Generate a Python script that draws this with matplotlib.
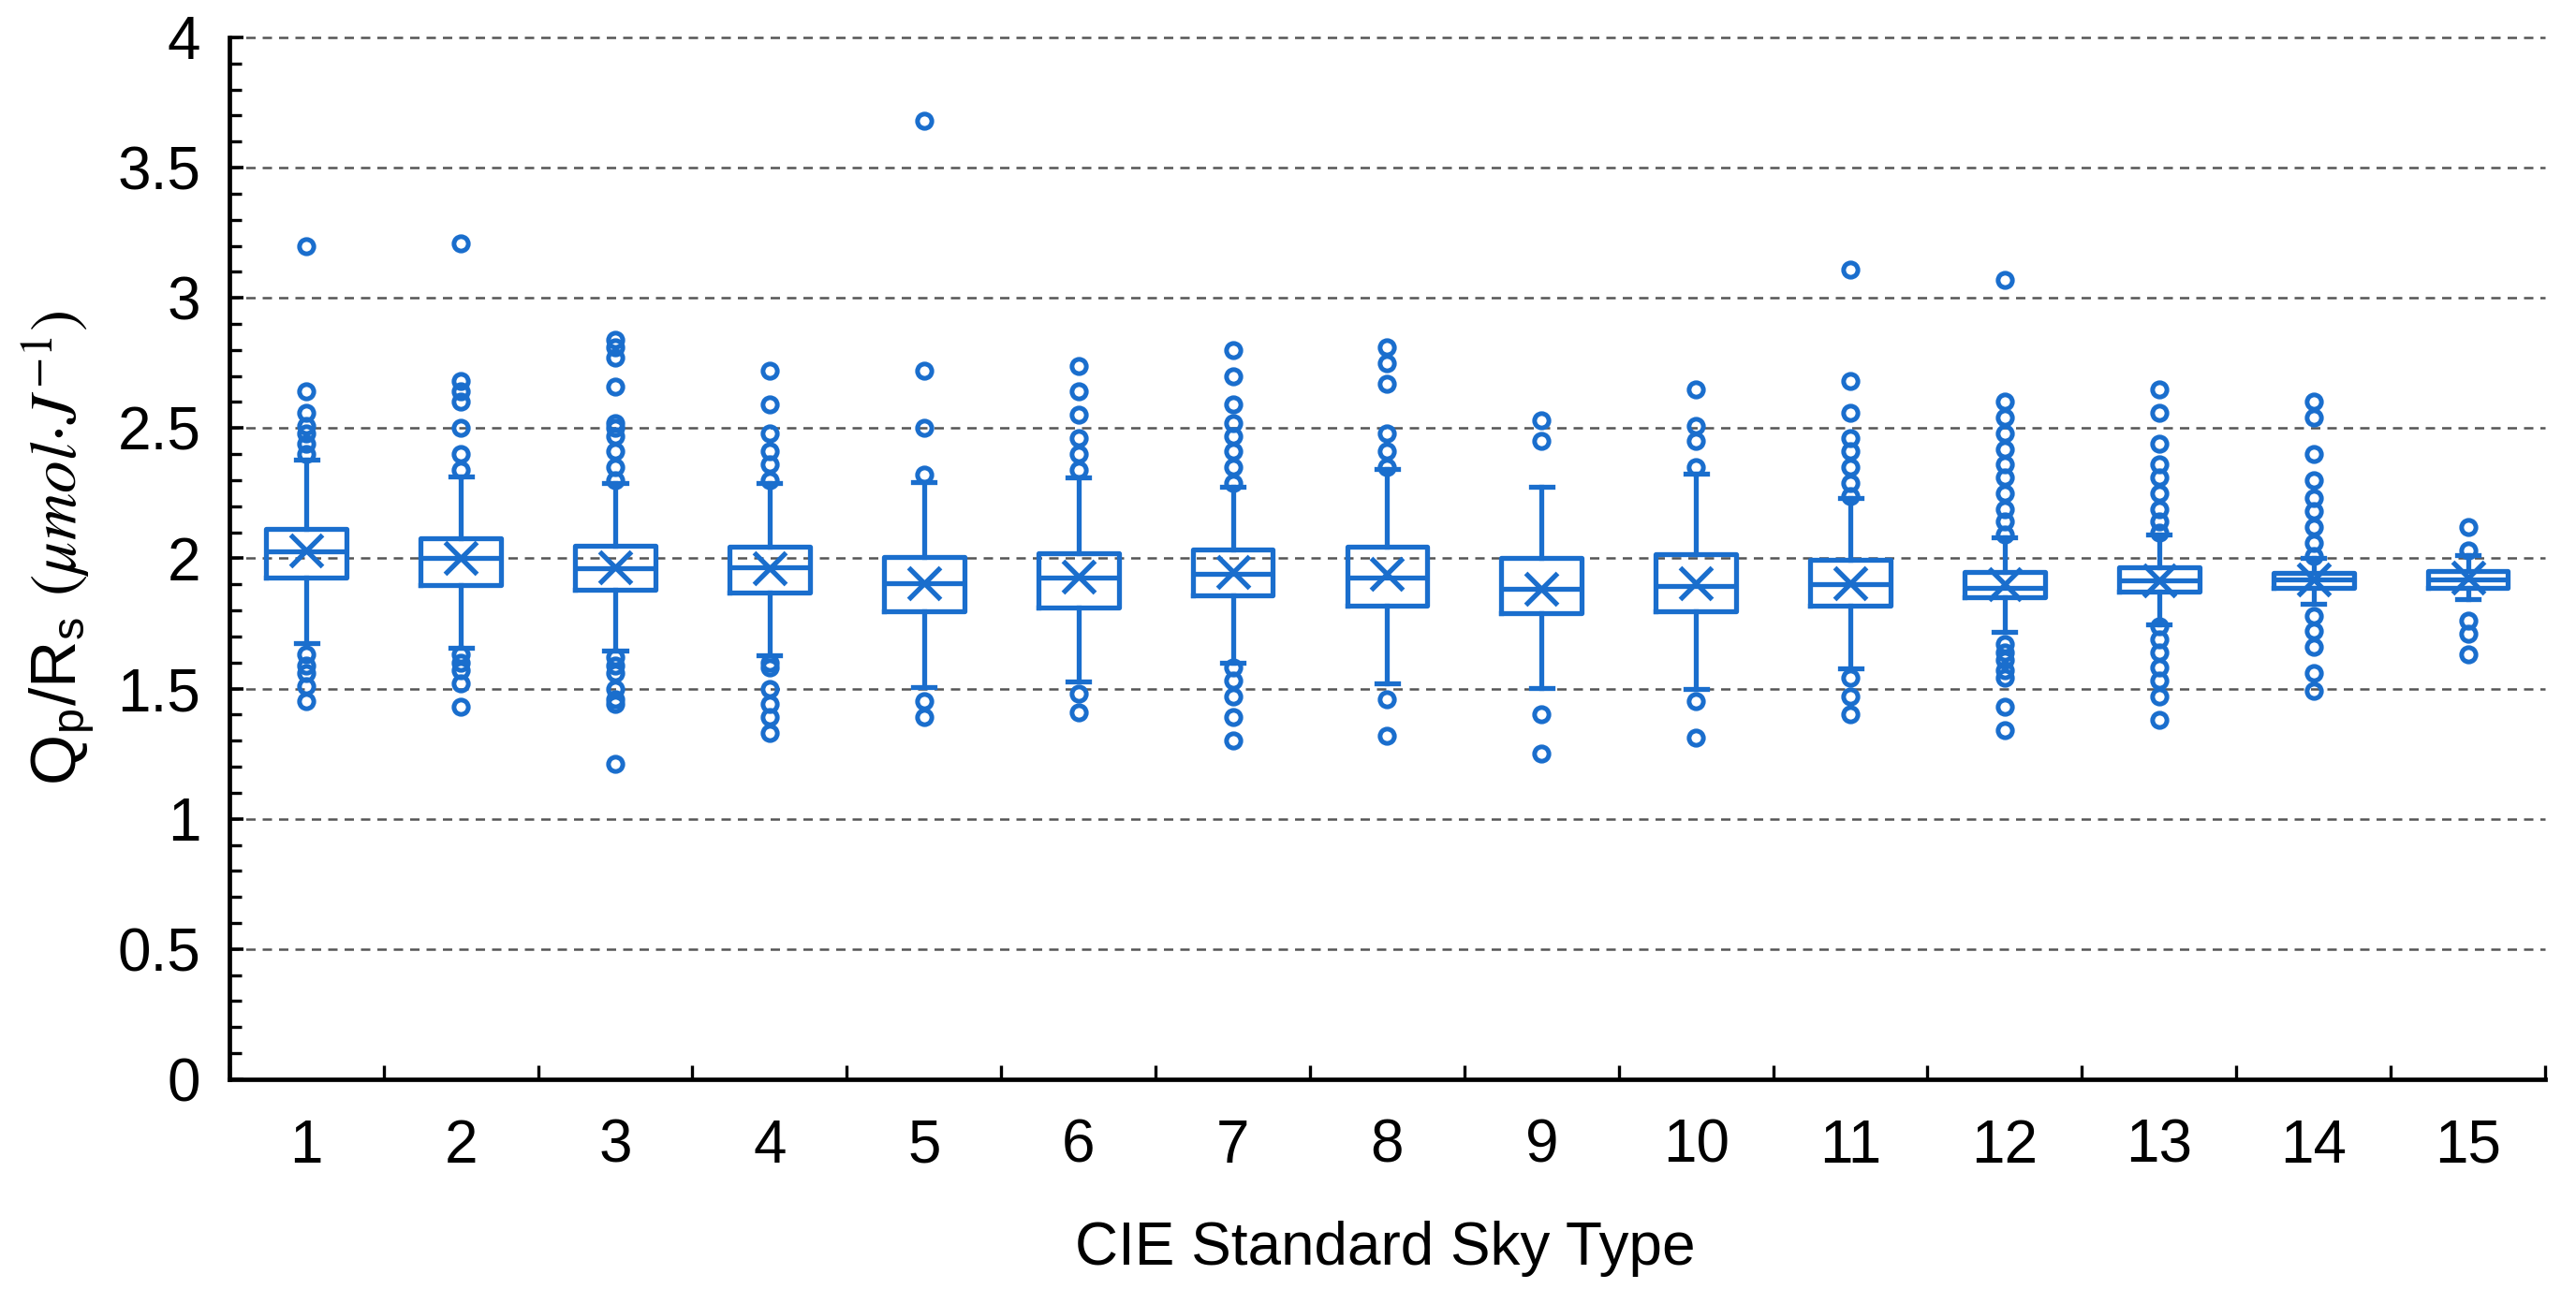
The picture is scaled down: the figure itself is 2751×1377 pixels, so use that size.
import matplotlib
matplotlib.use('Agg')
import matplotlib.pyplot as plt
from matplotlib.ticker import MultipleLocator, FormatStrFormatter

plt.rcParams['font.family'] = ['Liberation Sans', 'DejaVu Sans']
plt.rcParams['mathtext.fontset'] = 'stix'

# 数据: 每种天空类型的箱线图统计量
sky_types = list(range(1, 16))
q1 = [1.926, 1.897, 1.879, 1.868, 1.798, 1.811, 1.857, 1.820, 1.789, 1.798, 1.817, 1.849, 1.871, 1.886, 1.886]
med = [2.026, 2.000, 1.961, 1.967, 1.903, 1.925, 1.939, 1.925, 1.884, 1.893, 1.902, 1.885, 1.915, 1.918, 1.920]
q3 = [2.114, 2.077, 2.050, 2.044, 2.004, 2.018, 2.035, 2.044, 2.000, 2.017, 1.993, 1.948, 1.964, 1.943, 1.952]
means = [2.030, 2.000, 1.967, 1.961, 1.903, 1.930, 1.949, 1.939, 1.884, 1.903, 1.906, 1.900, 1.915, 1.920, 1.925]
whis_lo = [1.673, 1.658, 1.645, 1.627, 1.507, 1.529, 1.600, 1.520, 1.502, 1.498, 1.576, 1.717, 1.745, 1.825, 1.843]
whis_hi = [2.380, 2.316, 2.289, 2.289, 2.294, 2.311, 2.276, 2.344, 2.276, 2.325, 2.232, 2.081, 2.090, 2.000, 2.012]
fliers = [
    [3.20, 2.64, 2.56, 2.51, 2.48, 2.44, 2.40, 1.63, 1.59, 1.56, 1.51, 1.45],
    [3.21, 2.68, 2.64, 2.60, 2.50, 2.40, 2.34, 1.63, 1.60, 1.57, 1.52, 1.43],
    [2.84, 2.81, 2.77, 2.66, 2.52, 2.50, 2.47, 2.41, 2.35, 2.30, 1.62, 1.59, 1.56, 1.50, 1.46, 1.44, 1.21],
    [2.72, 2.59, 2.48, 2.41, 2.36, 2.30, 1.60, 1.58, 1.50, 1.44, 1.39, 1.33],
    [3.68, 2.72, 2.50, 2.32, 1.45, 1.39],
    [2.74, 2.64, 2.55, 2.46, 2.40, 2.34, 1.48, 1.41],
    [2.80, 2.70, 2.59, 2.52, 2.47, 2.41, 2.35, 2.29, 1.58, 1.53, 1.47, 1.39, 1.30],
    [2.81, 2.75, 2.67, 2.48, 2.41, 2.35, 1.46, 1.32],
    [2.53, 2.45, 1.40, 1.25],
    [2.65, 2.51, 2.45, 2.35, 1.45, 1.31],
    [3.11, 2.68, 2.56, 2.46, 2.41, 2.35, 2.29, 2.24, 1.54, 1.47, 1.40],
    [3.07, 2.60, 2.54, 2.48, 2.42, 2.36, 2.31, 2.25, 2.19, 2.14, 2.09, 1.67, 1.64, 1.61, 1.57, 1.54, 1.43, 1.34],
    [2.65, 2.56, 2.44, 2.36, 2.31, 2.25, 2.19, 2.14, 2.10, 1.74, 1.69, 1.64, 1.58, 1.53, 1.47, 1.38],
    [2.60, 2.54, 2.40, 2.30, 2.23, 2.18, 2.12, 2.06, 2.01, 1.78, 1.72, 1.66, 1.56, 1.49],
    [2.12, 2.03, 1.76, 1.71, 1.63],
]

BLUE = '#1a6ecd'

stats = []
for i in range(len(sky_types)):
    stats.append({
        'q1': q1[i], 'med': med[i], 'q3': q3[i], 'mean': means[i],
        'whislo': whis_lo[i], 'whishi': whis_hi[i], 'fliers': fliers[i],
        'label': str(sky_types[i]),
    })

fig = plt.figure(figsize=(27.51, 13.77), dpi=100)
ax = fig.add_axes([0.089, 0.1627, 0.899, 0.8083])

lw = 3.8
ax.bxp(stats, positions=sky_types, widths=0.52, capwidths=0.14,
       showmeans=True, meanline=False, patch_artist=False,
       boxprops=dict(color=BLUE, linewidth=lw),
       medianprops=dict(color=BLUE, linewidth=lw),
       whiskerprops=dict(color=BLUE, linewidth=lw),
       capprops=dict(color=BLUE, linewidth=lw),
       meanprops=dict(marker='x', markersize=24, markeredgecolor=BLUE,
                      markeredgewidth=3.8, markerfacecolor=BLUE),
       flierprops=dict(marker='o', markersize=11, markerfacecolor='none',
                       markeredgecolor=BLUE, markeredgewidth=3.6, linestyle='none'),
       zorder=3)

ax.set_xlim(0.5, 15.5)
ax.set_ylim(0, 4)

# 虚线网格
for yv in [0.5, 1, 1.5, 2, 2.5, 3, 3.5, 4]:
    ax.axhline(yv, color='#555555', linewidth=1.8, linestyle=(0, (4, 3)), zorder=1, clip_on=False)

ax.spines['top'].set_visible(False)
ax.spines['right'].set_visible(False)
ax.spines['left'].set_linewidth(3.4)
ax.spines['bottom'].set_linewidth(3.4)

ax.set_xticks(sky_types)
ax.set_xticklabels([str(s) for s in sky_types])
ax.xaxis.set_minor_locator(MultipleLocator(1, offset=0.5))
ax.tick_params(axis='x', which='major', length=0, pad=30, labelsize=46)
ax.tick_params(axis='x', which='minor', direction='in', length=11, width=2.4)

ax.yaxis.set_major_locator(MultipleLocator(0.5))
ax.yaxis.set_minor_locator(MultipleLocator(0.1))
ax.yaxis.set_major_formatter(FormatStrFormatter('%g'))
ax.tick_params(axis='y', which='major', direction='in', length=11, width=2.6, pad=22, labelsize=46)
ax.tick_params(axis='y', which='minor', direction='in', length=9, width=2.4)

ax.set_xlabel('CIE Standard Sky Type', fontsize=46)
ax.xaxis.set_label_coords(0.499, -0.136)
ax.set_ylabel(r'Q$_\mathregular{p}$/R$_\mathregular{s}$ $(\mu mol{\cdot}J^{-1})$', fontsize=50)
ax.yaxis.set_label_coords(-0.057, 0.51)

fig.savefig('out.png', dpi=100)
